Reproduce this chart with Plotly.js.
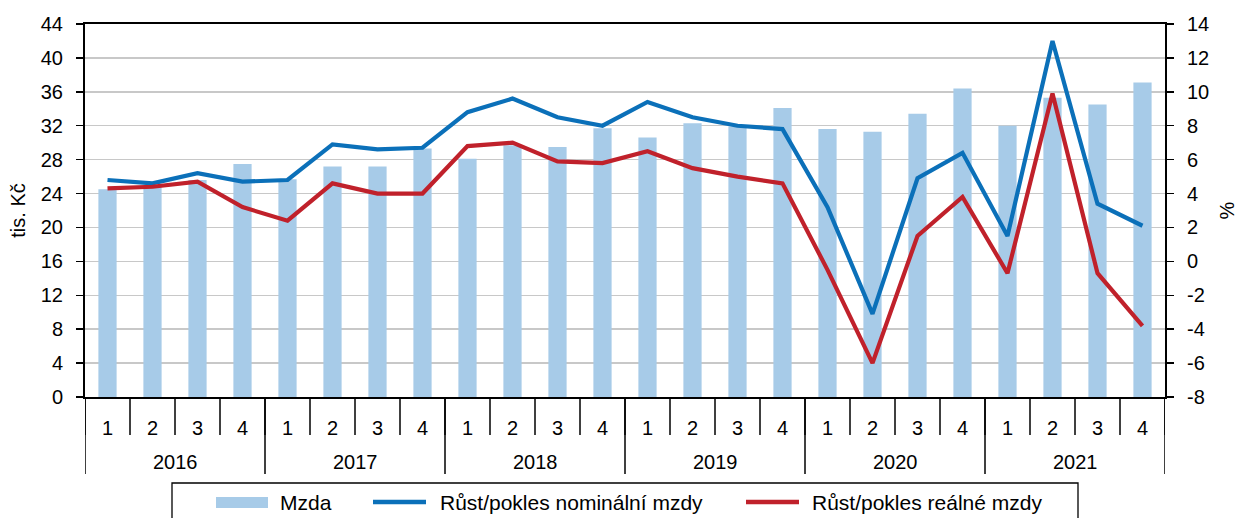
<!DOCTYPE html>
<html>
<head>
<meta charset="utf-8">
<script src="https://cdn.plot.ly/plotly-3.0.1.min.js"></script>
<style>
  html, body { margin: 0; padding: 0; background: #ffffff; }
  #chart { width: 1241px; height: 518px; }
</style>
</head>
<body>
<div id="chart"></div>
<script>
// ---- data ----
const years = ['2016', '2017', '2018', '2019', '2020', '2021'];
const quarters = ['1', '2', '3', '4'];
const mzda = [24.5, 24.8, 25.6, 27.5, 25.7, 27.2, 27.2, 29.3, 28.1, 29.7, 29.5, 31.7,
              30.6, 32.3, 31.9, 34.1, 31.6, 31.3, 33.4, 36.4, 32.0, 35.3, 34.5, 37.1];
const nominal = [4.8, 4.6, 5.2, 4.7, 4.8, 6.9, 6.6, 6.7, 8.8, 9.6, 8.5, 8.0,
                 9.4, 8.5, 8.0, 7.8, 3.2, -3.1, 4.9, 6.4, 1.5, 13.0, 3.4, 2.1];
const real = [4.3, 4.4, 4.7, 3.2, 2.4, 4.6, 4.0, 4.0, 6.8, 7.0, 5.9, 5.8,
              6.5, 5.5, 5.0, 4.6, -0.5, -6.0, 1.5, 3.8, -0.7, 9.9, -0.7, -3.8];
const rightTicks = [-8, -6, -4, -2, 0, 2, 4, 6, 8, 10, 12, 14];
const rightTickText = ['-8', '-6', '-4', '-2', '0', '2', '4', '6', '8', '10', '12', '14'];
const seriesNames = ['Mzda', 'Růst/pokles nominální mzdy', 'Růst/pokles reálné mzdy'];
const yLeftTitle = 'tis. Kč';
const yRightTitle = '%';

// ---- derived categories ----
const catQuarter = [];
const catYear = [];
years.forEach(y => quarters.forEach(q => { catQuarter.push(q); catYear.push(y); }));
const xIdx = catQuarter.map((_, i) => i);

// ---- styling ----
const FONT = 'Liberation Sans, Arial, sans-serif';
const C_BAR = '#a7cbe8';
const C_BLUE = '#0b70b9';
const C_RED = '#c0212b';

// plot-area geometry (pixels)
const L = 85, R = 1165, T = 24, B = 397;
const px = v => (v - L) / (R - L);
const py = v => (B - v) / (B - T);

const traces = [
  { type: 'bar', x: xIdx, y: mzda, name: seriesNames[0], marker: { color: C_BAR },
    yaxis: 'y', showlegend: false, hoverinfo: 'y' },
  { type: 'scatter', mode: 'lines', x: xIdx, y: nominal, name: seriesNames[1],
    line: { color: C_BLUE, width: 4.2 }, yaxis: 'y2', showlegend: false },
  { type: 'scatter', mode: 'lines', x: xIdx, y: real, name: seriesNames[2],
    line: { color: C_RED, width: 4.2 }, yaxis: 'y2', showlegend: false }
];

const shapes = [];
const annotations = [];

// quarter boundary ticks
for (let i = 0; i <= xIdx.length; i++) {
  shapes.push({ type: 'line', xref: 'x', yref: 'paper', x0: i - 0.5, x1: i - 0.5,
    y0: 0, y1: py(435), line: { color: '#000', width: 1.5 } });
}
// year dividers and labels
for (let k = 0; k <= years.length; k++) {
  const xb = k * quarters.length - 0.5;
  shapes.push({ type: 'line', xref: 'x', yref: 'paper', x0: xb, x1: xb,
    y0: 0, y1: py(474), line: { color: '#000', width: 1.5 } });
}
years.forEach((y, k) => {
  annotations.push({ xref: 'x', yref: 'paper', x: k * quarters.length + (quarters.length - 1) / 2,
    y: py(462), text: y, showarrow: false, xanchor: 'center', yanchor: 'middle',
    font: { family: FONT, size: 20, color: '#000' } });
});

// legend (box, swatches, labels)
shapes.push({ type: 'rect', xref: 'paper', yref: 'paper', x0: px(172), x1: px(1078),
  y0: py(483), y1: py(560), line: { color: '#000', width: 1.3 }, fillcolor: 'rgba(0,0,0,0)' });
shapes.push({ type: 'rect', xref: 'paper', yref: 'paper', x0: px(216), x1: px(268),
  y0: py(497), y1: py(508), line: { width: 0 }, fillcolor: C_BAR });
shapes.push({ type: 'line', xref: 'paper', yref: 'paper', x0: px(373), x1: px(426),
  y0: py(502), y1: py(502), line: { color: C_BLUE, width: 4.5 } });
shapes.push({ type: 'line', xref: 'paper', yref: 'paper', x0: px(746), x1: px(799),
  y0: py(502), y1: py(502), line: { color: C_RED, width: 4.5 } });
[[278, seriesNames[0]], [438, seriesNames[1]], [810, seriesNames[2]]].forEach(([xp, t]) => {
  annotations.push({ xref: 'paper', yref: 'paper', x: px(xp), y: py(502), text: t,
    showarrow: false, xanchor: 'left', yanchor: 'middle',
    font: { family: FONT, size: 21, color: '#000' } });
});

const layout = {
  width: 1241, height: 518,
  margin: { l: L, r: 1241 - R, t: T, b: 518 - B, pad: 0 },
  paper_bgcolor: '#fff', plot_bgcolor: '#fff',
  font: { family: FONT, size: 20, color: '#000' },
  showlegend: false,
  bargap: 0.595,
  xaxis: {
    range: [-0.5, xIdx.length - 0.5],
    tickmode: 'array', tickvals: xIdx, ticktext: catQuarter,
    ticks: '', ticklabelstandoff: 12,
    tickfont: { family: FONT, size: 20, color: '#000' },
    showgrid: false, zeroline: false,
    showline: true, linecolor: '#000', linewidth: 1.8, mirror: true
  },
  yaxis: {
    range: [0, 44], dtick: 4, tick0: 0,
    ticks: 'outside', ticklen: 7, tickwidth: 1.5, tickcolor: '#000',
    ticklabelstandoff: 9,
    tickfont: { family: FONT, size: 20, color: '#000' },
    showgrid: true, gridcolor: '#c8c8c8', gridwidth: 1.4,
    zeroline: false, showline: true, linecolor: '#000', linewidth: 2,
    title: { text: yLeftTitle, font: { family: FONT, size: 20, color: '#000' }, standoff: 10 }
  },
  yaxis2: {
    range: [-8, 14], tickmode: 'array', tickvals: rightTicks, ticktext: rightTickText,
    overlaying: 'y', side: 'right',
    ticks: 'outside', ticklen: 7, tickwidth: 1.5, tickcolor: '#000',
    ticklabelstandoff: 9,
    tickfont: { family: FONT, size: 20, color: '#000' },
    showgrid: false, zeroline: false, showline: true, linecolor: '#000', linewidth: 2,
    title: { text: yRightTitle, font: { family: FONT, size: 20, color: '#000' }, standoff: 12 }
  },
  shapes: shapes,
  annotations: annotations
};

Plotly.newPlot('chart', traces, layout, { displayModeBar: false, staticPlot: true });
</script>
</body>
</html>
